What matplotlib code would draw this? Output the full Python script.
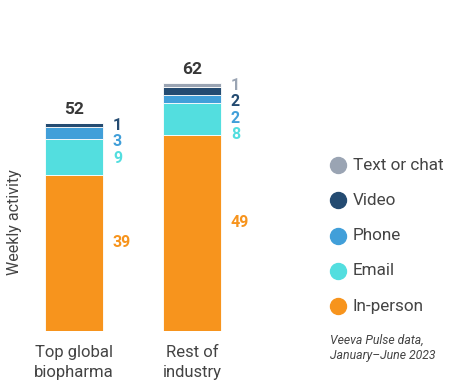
import matplotlib.pyplot as plt
from matplotlib.lines import Line2D

plt.rcParams["font.family"] = ["Roboto", "DejaVu Sans"]

# data, bottom segment first
groups = ["Top global\nbiopharma", "Rest of\nindustry"]
channels = ["In-person", "Email", "Phone", "Video", "Text or chat"]
values = {
    "In-person": [39, 49],
    "Email": [9, 8],
    "Phone": [3, 2],
    "Video": [1, 2],
    "Text or chat": [0, 1],
}
totals = [52, 62]

colors = {
    "In-person": "#F7941D",
    "Email": "#53DEDF",
    "Phone": "#419FD9",
    "Video": "#244B71",
    "Text or chat": "#9AA4B3",
}
TEXT = "#444444"

W, H = 470, 385
fig = plt.figure(figsize=(W / 100, H / 100), dpi=100)
# axes: 30..310 px wide, y=0 at 331 px, 4 px per unit
ax = fig.add_axes([30 / W, (H - 331) / H, 280 / W, 280 / H])
ax.set_ylim(0, 70)
ax.set_xlim(-0.373, 2.0)
for s in ax.spines.values():
    s.set_visible(False)
ax.set_xticks([])
ax.set_yticks([])

xs = list(range(len(groups)))
width = 0.49
bottoms = [0] * len(groups)
for ch in channels:
    ax.bar(xs, values[ch], width, bottom=bottoms, color=colors[ch],
           edgecolor="white", linewidth=0.6)
    bottoms = [b + v for b, v in zip(bottoms, values[ch])]

# segment labels: small ones stacked down from bar top, in-person near the middle
for i, x in enumerate(xs):
    lx = x + width / 2 + 0.085
    y = totals[i] - 0.6
    for ch in reversed(channels[1:]):
        v = values[ch][i]
        if v == 0:
            continue
        ax.text(lx, y, str(v), color=colors[ch], fontsize=11.5,
                fontweight="bold", ha="left", va="center")
        y -= 4.1
    inp = values["In-person"][i]
    ax.text(lx, inp / 2 + 2.6, str(inp), color=colors["In-person"],
            fontsize=11.5, fontweight="bold", ha="left", va="center")
    ax.text(x, totals[i] + 3.5, str(totals[i]), color="#383838",
            fontsize=12.5, fontweight="bold", ha="center", va="center")
    ax.text(x, -3.5, groups[i], color=TEXT, fontsize=12, ha="center",
            va="top", linespacing=1.45)

fig.text(15 / W, 1 - 222 / H, "Weekly activity", rotation=90, color=TEXT,
         fontsize=11.5, ha="center", va="center")

# legend, drawn by hand
for k, ch in enumerate(reversed(channels)):
    yy = 1 - (165 + 35.3 * k) / H
    fig.add_artist(Line2D([338 / W], [yy], marker="o", markersize=11.5,
                          color=colors[ch], linestyle="none",
                          transform=fig.transFigure))
    fig.text(353 / W, yy, ch, color=TEXT, fontsize=12.3, ha="left",
             va="center")

fig.text(330 / W, 1 - 348 / H, "Veeva Pulse data,\nJanuary\u2013June 2023",
         color=TEXT, fontsize=8.8, style="italic", ha="left", va="center",
         linespacing=1.3)

fig.savefig("out.png", dpi=100)
